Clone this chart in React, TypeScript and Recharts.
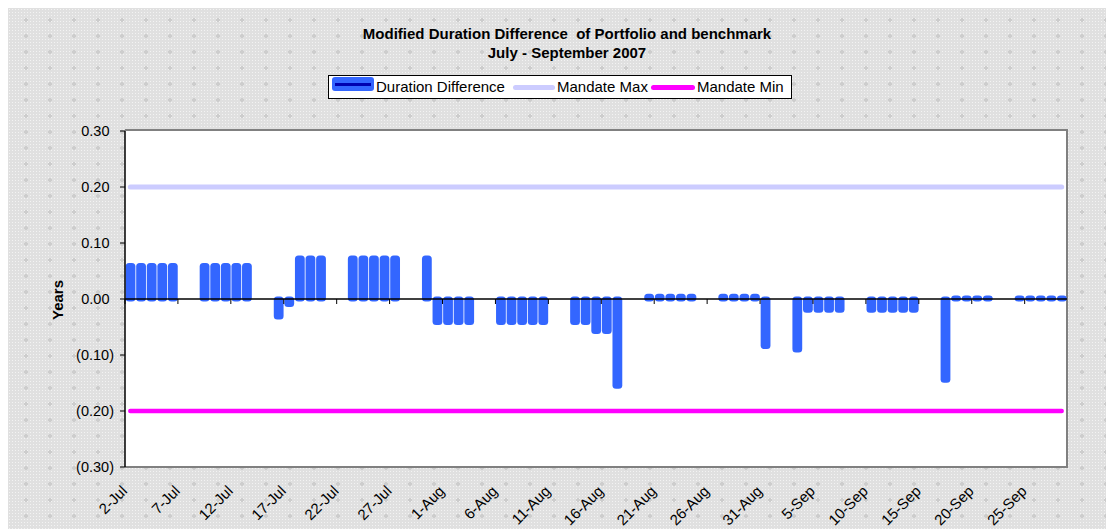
import React from 'react';
import {
  ComposedChart,
  Bar,
  Line,
  XAxis,
  YAxis,
  ReferenceLine,
} from 'recharts';

// Daily categories 2-Jul .. 28-Sep 2007 (weekends left empty)
const START_DAY = { year: 2007, month: 6, day: 2 };
const DAY_COUNT = 89;
const MONTHS = ['Jan', 'Feb', 'Mar', 'Apr', 'May', 'Jun', 'Jul', 'Aug', 'Sep', 'Oct', 'Nov', 'Dec'];

const dates: string[] = [];
for (let i = 0; i < DAY_COUNT; i++) {
  const d = new Date(START_DAY.year, START_DAY.month, START_DAY.day + i);
  dates.push(`${d.getDate()}-${MONTHS[d.getMonth()]}`);
}

// Duration difference (years), one week per row: Mon..Fri, Sat, Sun
const durationDiff: (number | null)[] = [
  0.06, 0.06, 0.06, 0.06, 0.06, null, null,
  0.06, 0.06, 0.06, 0.06, 0.06, null, null,
  -0.032, -0.01, 0.073, 0.073, 0.073, null, null,
  0.073, 0.073, 0.073, 0.073, 0.073, null, null,
  0.073, -0.042, -0.042, -0.042, -0.042, null, null,
  -0.042, -0.042, -0.042, -0.042, -0.042, null, null,
  -0.042, -0.042, -0.058, -0.058, -0.156, null, null,
  0.005, 0.005, 0.005, 0.005, 0.005, null, null,
  0.005, 0.005, 0.005, 0.005, -0.085, null, null,
  -0.091, -0.02, -0.02, -0.02, -0.02, null, null,
  -0.02, -0.02, -0.02, -0.02, -0.02, null, null,
  -0.145, 0.002, 0.002, 0.002, 0.002, null, null,
  0.002, 0.002, 0.002, 0.002, 0.002,
];

const MANDATE_MAX = 0.2;
const MANDATE_MIN = -0.2;

const yTicks = [0.3, 0.2, 0.1, 0, -0.1, -0.2, -0.3];

const data = dates.map((date, i) => ({
  date,
  diff: durationDiff[i],
  max: MANDATE_MAX,
  min: MANDATE_MIN,
}));

const FONT = '"Liberation Sans", Arial, sans-serif';
const BLUE = '#3366FF';
const LAVENDER = '#CCCCFF';
const MAGENTA = '#FF00FF';

const W = 1106;
const H = 521;
const MARGIN = { top: 123, right: 47, bottom: 2, left: 57 };
const Y_AXIS_W = 60;
const X_AXIS_H = 60;
const PLOT_W = W - MARGIN.left - MARGIN.right - Y_AXIS_W;
const PLOT_H = H - MARGIN.top - MARGIN.bottom - X_AXIS_H;
const ZERO_Y = MARGIN.top + PLOT_H / 2;
const HALF_SLOT = PLOT_W / DAY_COUNT / 2;

const DiffBar = (p: any) => {
  if (p.payload == null || p.payload.diff == null) return null;
  const top = Math.min(p.y, p.y + p.height);
  const h = Math.abs(p.height);
  const cap = 2.5;
  return (
    <rect
      x={p.x + 0.6}
      y={top - cap}
      width={Math.max(p.width - 1.2, 1)}
      height={h + cap * 2}
      rx={3.5}
      ry={3.5}
      fill={BLUE}
    />
  );
};

const XTick = ({ x, y, payload, index }: any) => {
  if (index % 5 !== 0) return null;
  const bx = x - HALF_SLOT;
  const tx = bx + 3;
  const ty = y + 25;
  return (
    <g>
      <line x1={bx} x2={bx} y1={ZERO_Y} y2={ZERO_Y + 5} stroke="#000" strokeWidth={1} />
      <text
        x={tx}
        y={ty}
        transform={`rotate(-45 ${tx} ${ty})`}
        textAnchor="end"
        fontSize={15}
        fontFamily={FONT}
        fill="#000"
      >
        {payload.value}
      </text>
    </g>
  );
};

const YTick = ({ x, y, payload }: any) => {
  const v = payload.value;
  const label = v < 0 ? `(${Math.abs(v).toFixed(2)})` : v.toFixed(2);
  return (
    <text
      x={v < 0 ? x : x - 4.5}
      y={y}
      dy={5}
      textAnchor="end"
      fontSize={14.5}
      fontFamily={FONT}
      fill="#000"
    >
      {label}
    </text>
  );
};

const legendText: React.CSSProperties = {
  position: 'absolute',
  top: 2,
  fontSize: 15,
  lineHeight: '18px',
  color: '#000',
  whiteSpace: 'nowrap',
};

export default function App() {
  return (
    <div
      style={{
        position: 'relative',
        width: W,
        height: H,
        fontFamily: FONT,
        backgroundColor: '#e0e0e0',
        backgroundImage:
          'radial-gradient(circle, #cdcdcd 1.6px, transparent 2px), radial-gradient(circle, #f3f3f3 0.7px, transparent 1px)',
        backgroundSize: '24px 16px, 3px 3px',
        backgroundPosition: '6px 4px, 0 0',
      }}
    >
      {/* white plot area with grey frame */}
      <div
        style={{
          position: 'absolute',
          left: MARGIN.left + Y_AXIS_W,
          top: MARGIN.top - 2,
          width: PLOT_W - 1,
          height: PLOT_H - 1,
          background: '#fff',
          borderTop: '2px solid #808080',
          borderRight: '2px solid #808080',
          borderBottom: '2px solid #808080',
        }}
      />

      {/* title */}
      <div
        style={{
          position: 'absolute',
          left: 0,
          width: 1118,
          top: 16,
          textAlign: 'center',
          fontWeight: 'bold',
          fontSize: 15,
          lineHeight: '19px',
          whiteSpace: 'pre',
          color: '#000',
        }}
      >
        {'Modified Duration Difference  of Portfolio and benchmark'}
        {'\n'}
        {'July - September 2007'}
      </div>

      {/* legend */}
      <div
        style={{
          position: 'absolute',
          left: 320,
          top: 67,
          width: 464,
          height: 24,
          boxSizing: 'border-box',
          border: '1px solid #000',
          background: '#fff',
        }}
      >
        <div
          style={{
            position: 'absolute',
            left: 3,
            top: 1,
            width: 42,
            height: 14,
            borderRadius: 3,
            background: BLUE,
          }}
        >
          <div style={{ position: 'absolute', left: 3, right: 3, top: 6, height: 3, background: '#0000B0' }} />
        </div>
        <span style={{ ...legendText, left: 47 }}>Duration Difference</span>
        <div style={{ position: 'absolute', left: 184, top: 9, width: 42, height: 5, borderRadius: 3, background: LAVENDER }} />
        <span style={{ ...legendText, left: 228 }}>Mandate Max</span>
        <div style={{ position: 'absolute', left: 322, top: 9, width: 44, height: 5, borderRadius: 3, background: MAGENTA }} />
        <span style={{ ...legendText, left: 368 }}>Mandate Min</span>
      </div>

      {/* y axis title */}
      <div
        style={{
          position: 'absolute',
          left: 49,
          top: 292,
          transform: 'translate(-50%, -50%) rotate(-90deg)',
          fontWeight: 'bold',
          fontSize: 15,
          color: '#000',
        }}
      >
        Years
      </div>

      <div style={{ position: 'absolute', left: 0, top: 0 }}>
        <ComposedChart width={W} height={H} data={data} margin={MARGIN} barCategoryGap={0}>
          <XAxis
            dataKey="date"
            interval={0}
            height={X_AXIS_H}
            axisLine={false}
            tickLine={false}
            tickSize={0}
            tickMargin={0}
            tick={<XTick />}
          />
          <YAxis
            width={Y_AXIS_W}
            domain={[-0.3, 0.3]}
            ticks={yTicks}
            allowDataOverflow
            axisLine={{ stroke: '#000', strokeWidth: 1.5 }}
            tickLine={{ stroke: '#000' }}
            tickSize={5}
            tickMargin={6}
            tick={<YTick />}
          />
          <ReferenceLine y={0} stroke="#000" strokeWidth={1.5} />
          <Bar dataKey="diff" shape={<DiffBar />} isAnimationActive={false} />
          <Line
            dataKey="max"
            stroke={LAVENDER}
            strokeWidth={5}
            strokeLinecap="round"
            dot={false}
            activeDot={false}
            isAnimationActive={false}
          />
          <Line
            dataKey="min"
            stroke={MAGENTA}
            strokeWidth={4.5}
            strokeLinecap="round"
            dot={false}
            activeDot={false}
            isAnimationActive={false}
          />
        </ComposedChart>
      </div>
    </div>
  );
}
